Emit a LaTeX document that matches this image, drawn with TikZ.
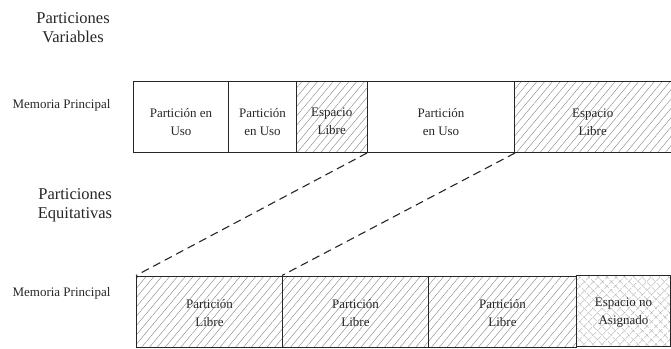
\documentclass[tikz,border=0pt]{standalone}
\usepackage{fontspec}
\setmainfont{Liberation Serif}
\usetikzlibrary{patterns.meta}
\begin{document}
\begin{tikzpicture}[x=1pt,y=1pt,
  cell/.style={draw=black!85, line width=1pt, minimum height=71pt, inner sep=0pt, anchor=north west},
  hatch/.style={pattern={Lines[angle=50,distance=6pt,line width=0.45pt]}, pattern color=black!45},
  cross/.style={preaction={pattern={Lines[angle=45,distance=6.4pt,line width=0.5pt]}, pattern color=black!50},
                pattern={Lines[angle=-45,distance=6.4pt,line width=0.5pt]}, pattern color=black!50},
  celltext/.style={align=center, text=black!85, font=\fontsize{13}{18}\selectfont, inner sep=0pt},
  heading/.style={align=center, text=black!85, font=\fontsize{16.5}{19}\selectfont, inner sep=0pt},
  rowlabel/.style={text=black!85, font=\fontsize{13}{16}\selectfont, inner sep=0pt},
  link/.style={draw=black!85, line width=1.1pt, dash pattern=on 8pt off 5pt}
]
\useasboundingbox (0,0) rectangle (671,-348);

% headings and row labels
\node[heading] (hvar) at (73,-27.5) {Particiones\\Variables};
\node[heading] (hequ) at (75,-205.5) {Particiones\\Equitativas};
\node[rowlabel] (mtop) at (61.5,-105.5) {Memoria Principal};
\node[rowlabel] (mbot) at (61.5,-293.5) {Memoria Principal};

% variable partitions
\node[cell, minimum width=95pt] (t1) at (133,-81) {};
\node[cell, minimum width=68pt] (t2) at (228,-81) {};
\node[cell, hatch, minimum width=71pt] (t3) at (296,-81) {};
\node[cell, minimum width=147pt] (t4) at (367,-81) {};
\node[cell, hatch, minimum width=156.5pt] (t5) at (514,-81) {};

\node[celltext] at ([yshift=-5pt]t1.center) {Partición en\\Uso};
\node[celltext] at ([yshift=-5pt]t2.center) {Partición\\en Uso};
\node[celltext] at ([yshift=-5pt]t3.center) {Espacio\\Libre};
\node[celltext] at ([yshift=-5pt]t4.center) {Partición\\en Uso};
\node[celltext] at ([yshift=-5pt]t5.center) {Espacio\\Libre};

% equal partitions
\node[cell, hatch, minimum width=146pt] (b1) at (136,-275.5) {};
\node[cell, hatch, minimum width=146pt] (b2) at (282,-275.5) {};
\node[cell, hatch, minimum width=148pt] (b3) at (428,-275.5) {};
\node[cell, cross, minimum width=94.5pt] (b4) at (576,-275.5) {};

\node[celltext] at ([yshift=-1.5pt]b1.center) {Partición\\Libre};
\node[celltext] at ([yshift=-1.5pt]b2.center) {Partición\\Libre};
\node[celltext] at ([yshift=-1.5pt]b3.center) {Partición\\Libre};
\node[celltext] at ([yshift=-1.5pt]b4.center) {Espacio no\\Asignado};

% correspondence lines
\draw[link] (t4.south west) -- (b1.north west);
\draw[link] (t4.south east) -- (b2.north west);
\end{tikzpicture}
\end{document}
